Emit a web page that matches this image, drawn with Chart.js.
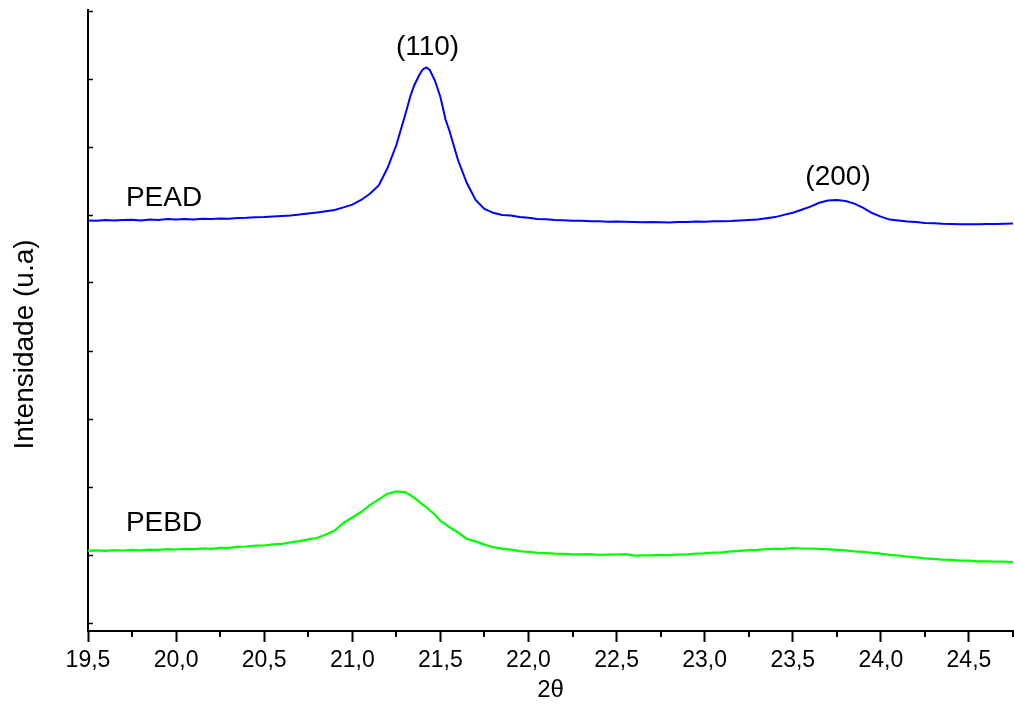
<!DOCTYPE html>
<html>
<head>
<meta charset="utf-8">
<script src="https://cdn.jsdelivr.net/npm/chart.js@4"></script>
<style>
  html, body { margin: 0; padding: 0; background: #fff; }
  #wrap { width: 1014px; height: 705px; position: relative; }
</style>
</head>
<body>
<div id="wrap"><canvas id="xrd"></canvas></div>
<script>
// 2theta values (degrees)
const theta = [
  19.50, 19.55, 19.60, 19.65, 19.70, 19.75, 19.80, 19.85, 19.90, 19.95,
  20.00, 20.05, 20.10, 20.15, 20.20, 20.25, 20.30, 20.35, 20.40, 20.45,
  20.50, 20.55, 20.60, 20.65, 20.70, 20.75, 20.80, 20.85, 20.90, 20.95,
  21.00, 21.05, 21.10, 21.15, 21.20, 21.25, 21.28, 21.30, 21.33, 21.35,
  21.38, 21.40, 21.42, 21.44, 21.47, 21.50, 21.53, 21.55,
  21.60, 21.65, 21.70, 21.75, 21.80, 21.85, 21.90,
  21.95, 22.00, 22.05, 22.10, 22.15, 22.20, 22.25, 22.30, 22.35, 22.40,
  22.45, 22.50, 22.55, 22.60, 22.65, 22.70, 22.75, 22.80, 22.85, 22.90,
  22.95, 23.00, 23.05, 23.10, 23.15, 23.20, 23.25, 23.30, 23.35, 23.40,
  23.45, 23.50, 23.55, 23.60, 23.65, 23.70, 23.75, 23.80, 23.85, 23.90,
  23.95, 24.00, 24.05, 24.10, 24.15, 24.20, 24.25, 24.30, 24.35, 24.40,
  24.45, 24.50, 24.55, 24.60, 24.65, 24.70, 24.75
];

// intensity, arbitrary units
const pead = [
  402.5, 402.2, 403.1, 402.4, 402.9, 403.2, 402.6, 403.5, 403.1, 403.9,
  403.4, 404.0, 403.5, 404.3, 403.9, 404.6, 404.2, 405.1, 405.2, 405.7,
  406.0, 406.5, 407.0, 407.6, 408.4, 409.6, 410.4, 411.7, 413.0, 415.6,
  418.4, 423.0, 429.2, 437.5, 455.0, 478.0, 496.0, 508.0, 527.0, 537.0,
  548.0, 553.5, 555.5, 553.0, 542.0, 526.0, 503.0, 493.0,
  463.0, 440.0, 423.0, 414.0, 410.2, 408.0, 407.6,
  406.0, 405.2, 404.0, 403.7, 403.0, 402.7, 402.2, 402.3, 401.7, 401.7,
  401.3, 401.4, 401.2, 401.0, 400.8, 400.9, 400.8, 400.6, 401.0, 401.1,
  401.4, 401.3, 401.7, 401.7, 402.0, 402.5, 403.1, 403.6, 404.8, 405.9,
  408.1, 410.2, 413.2, 416.4, 420.2, 422.4, 423.1, 421.9, 419.4, 415.2,
  410.0, 406.4, 403.4, 402.4, 401.4, 400.9, 400.1, 399.8, 399.2, 399.1,
  398.7, 398.8, 398.7, 398.9, 398.9, 399.2, 399.4
];

const pebd = [
  72.3, 72.6, 72.1, 72.9, 72.5, 73.1, 72.6, 73.4, 73.1, 73.9,
  73.5, 74.1, 73.8, 74.6, 74.2, 75.1, 75.2, 76.1, 76.5, 77.4,
  77.5, 78.6, 79.2, 80.6, 81.9, 83.6, 85.0, 88.6, 92.4, 100.0,
  105.5, 111.0, 117.8, 123.6, 129.2, 131.6, 131.2, 130.6, 127.8, 125.4,
  121.3, 118.2, 116.0, 112.6, 108.3, 102.0, 98.6, 96.0,
  90.5, 84.0, 81.6, 78.4, 75.8, 74.4, 73.4,
  71.8, 71.1, 70.2, 69.9, 69.3, 69.1, 68.6, 68.6, 68.9, 68.2,
  68.3, 68.5, 68.9, 67.4, 67.6, 67.6, 68.1, 67.9, 68.4, 68.7,
  69.3, 69.6, 70.3, 70.6, 71.6, 72.2, 72.9, 73.2, 73.9, 74.4,
  74.2, 75.0, 74.5, 74.4, 74.1, 73.7, 73.1, 72.6, 71.7, 71.1,
  70.1, 69.4, 68.2, 67.4, 66.3, 65.6, 64.6, 64.1, 63.4, 63.1,
  62.4, 62.3, 61.6, 61.6, 61.4, 61.3, 61.0
];

// tick values
const xMajorTicks = [19.5, 20.0, 20.5, 21.0, 21.5, 22.0, 22.5, 23.0, 23.5, 24.0, 24.5];
const xMinorTicks = [19.75, 20.25, 20.75, 21.25, 21.75, 22.25, 22.75, 23.25, 23.75, 24.25, 24.75];
const yTicks = [0, 68, 136, 204, 272, 340, 408, 476, 544, 612];

// text annotations (data coordinates)
const notes = [
  { text: "PEAD", x: 19.715, y: 425, align: "left" },
  { text: "PEBD", x: 19.715, y: 100, align: "left" },
  { text: "(110)", x: 21.427, y: 576, align: "center" },
  { text: "(200)", x: 23.757, y: 446, align: "center" }
];

const FONT = "'Liberation Sans', Arial, Helvetica, sans-serif";

// draws minor x ticks, the annotations and the y axis title
const extrasPlugin = {
  id: "extras",
  afterDraw(chart) {
    const ctx = chart.ctx;
    const xs = chart.scales.x;
    const ys = chart.scales.y;
    const area = chart.chartArea;
    ctx.save();

    ctx.strokeStyle = "#000";
    ctx.lineWidth = 2;
    xMinorTicks.forEach(function (v) {
      const px = Math.round(xs.getPixelForValue(v));
      ctx.beginPath();
      ctx.moveTo(px, area.bottom);
      ctx.lineTo(px, area.bottom + 6);
      ctx.stroke();
    });

    ctx.fillStyle = "#000";
    ctx.font = "28px " + FONT;
    ctx.textBaseline = "middle";
    notes.forEach(function (n) {
      ctx.textAlign = n.align;
      ctx.fillText(n.text, xs.getPixelForValue(n.x), ys.getPixelForValue(n.y));
    });

    ctx.translate(25, (area.top + area.bottom) / 2 + 24);
    ctx.rotate(-Math.PI / 2);
    ctx.textAlign = "center";
    ctx.fillText("Intensidade (u.a)", 0, 0);
    ctx.restore();
  }
};

new Chart(document.getElementById("xrd"), {
  type: "line",
  data: {
    datasets: [
      {
        label: "PEAD",
        data: theta.map((t, i) => ({ x: t, y: pead[i] })),
        borderColor: "#0000ff",
        borderWidth: 2,
        pointRadius: 0,
        tension: 0
      },
      {
        label: "PEBD",
        data: theta.map((t, i) => ({ x: t, y: pebd[i] })),
        borderColor: "#00ff00",
        borderWidth: 2.2,
        pointRadius: 0,
        tension: 0
      }
    ]
  },
  options: {
    responsive: true,
    maintainAspectRatio: false,
    animation: false,
    layout: { padding: { top: 10, right: 1, left: 0, bottom: 0 } },
    plugins: {
      legend: { display: false },
      tooltip: { enabled: false }
    },
    scales: {
      x: {
        type: "linear",
        min: 19.5,
        max: 24.75,
        afterBuildTicks: (scale) => {
          scale.ticks = xMajorTicks.map((v) => ({ value: v }));
        },
        afterFit: (scale) => {
          scale.height = 74;
        },
        border: { display: true, color: "#000", width: 2 },
        grid: {
          drawOnChartArea: false,
          drawTicks: true,
          tickLength: 11,
          tickColor: "#000",
          tickWidth: 2
        },
        ticks: {
          color: "#000",
          padding: 5,
          maxRotation: 0,
          autoSkip: false,
          font: { family: FONT, size: 23 },
          callback: (v) => Number(v).toFixed(1).replace(".", ",")
        },
        title: {
          display: true,
          text: "2θ",
          color: "#000",
          font: { family: FONT, size: 24 },
          padding: { top: 0, bottom: 0 }
        }
      },
      y: {
        type: "linear",
        min: -8,
        max: 613,
        afterBuildTicks: (scale) => {
          scale.ticks = yTicks.map((v) => ({ value: v }));
        },
        afterFit: (scale) => {
          scale.width = 88;
        },
        border: { display: true, color: "#000", width: 2 },
        grid: {
          drawOnChartArea: false,
          drawTicks: true,
          tickLength: -5,
          tickColor: "#000",
          tickWidth: 1.5
        },
        ticks: { display: false }
      }
    }
  },
  plugins: [extrasPlugin]
});
</script>
</body>
</html>
